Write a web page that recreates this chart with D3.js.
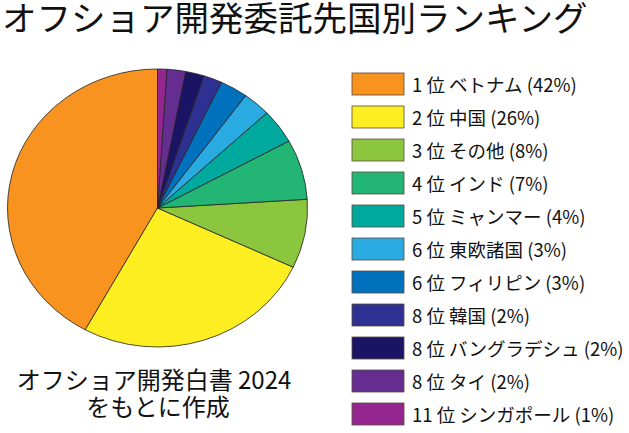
<!DOCTYPE html>
<html lang="ja">
<head>
<meta charset="utf-8">
<title>オフショア開発委託先国別ランキング</title>
<script src="https://cdn.jsdelivr.net/npm/d3@7"></script>
<style>
  body { margin: 0; background: #fff; }
  text { font-family: "Noto Sans CJK JP", "Noto Sans", sans-serif; fill: #111; }
</style>
</head>
<body>
<script>
// data, legend order (rank 1 first)
var ranks = [1, 2, 3, 4, 5, 6, 6, 8, 8, 8, 11];
var names = ["ベトナム", "中国", "その他", "インド", "ミャンマー", "東欧諸国",
             "フィリピン", "韓国", "バングラデシュ", "タイ", "シンガポール"];
var shares = [42, 26, 8, 7, 4, 3, 3, 2, 2, 2, 1];
var colors = ["#F7931E", "#FCEE21", "#8CC63F", "#22B573", "#00A99D", "#29ABE2",
              "#0071BC", "#2E3192", "#1B1464", "#662D91", "#93278F"];

var W = 629, H = 433;
var svg = d3.select("body").append("svg")
    .attr("width", W)
    .attr("height", H);

svg.append("text")
   .attr("x", 2)
   .attr("y", 31)
   .style("font-size", "34.5px")
   .text("オフショア開発委託先国別ランキング");

var rows = d3.range(names.length).map(function(i) {
  return {rank: ranks[i], name: names[i], value: shares[i], color: colors[i]};
});

// pie, drawn counter-clockwise from 12 o'clock so rank 1 sits on the left
var pie = d3.pie().sort(null).value(function(d) { return d.value; })
    .startAngle(0).endAngle(-2 * Math.PI);
var rx = 150, ry = 139;
var arc = d3.arc().innerRadius(0).outerRadius(rx);

var g = svg.append("g")
   .attr("transform", "translate(157.5,208) scale(1," + (ry / rx) + ")");

g.selectAll("path")
   .data(pie(rows))
   .enter()
   .append("path")
   .attr("d", arc)
   .attr("fill", function(d) { return d.data.color; })
   .attr("stroke", "#222")
   .attr("stroke-width", 0.8)
   .attr("vector-effect", "non-scaling-stroke");

// legend
var y = d3.scaleBand().domain(d3.range(rows.length)).range([73, 73 + 33 * rows.length]);

var lg = svg.selectAll("g.item")
   .data(rows)
   .enter()
   .append("g")
   .attr("class", "item")
   .attr("transform", function(d, i) { return "translate(352," + y(i) + ")"; });

lg.append("rect")
   .attr("width", 52)
   .attr("height", 22)
   .attr("fill", function(d) { return d.color; })
   .attr("stroke", "#5a4a3a")
   .attr("stroke-width", 0.8);

lg.append("text")
   .attr("x", 60)
   .attr("y", 18.5)
   .style("font-size", "18.5px")
   .text(function(d) { return d.rank + " 位 " + d.name + " (" + d.value + "%)"; });

// source note, two separate lines
svg.append("text")
   .attr("text-anchor", "middle")
   .attr("x", 154).attr("y", 389)
   .style("font-size", "24px")
   .text("オフショア開発白書 2024");
svg.append("text")
   .attr("text-anchor", "middle")
   .attr("x", 158).attr("y", 416)
   .style("font-size", "24px")
   .text("をもとに作成");
</script>
</body>
</html>
